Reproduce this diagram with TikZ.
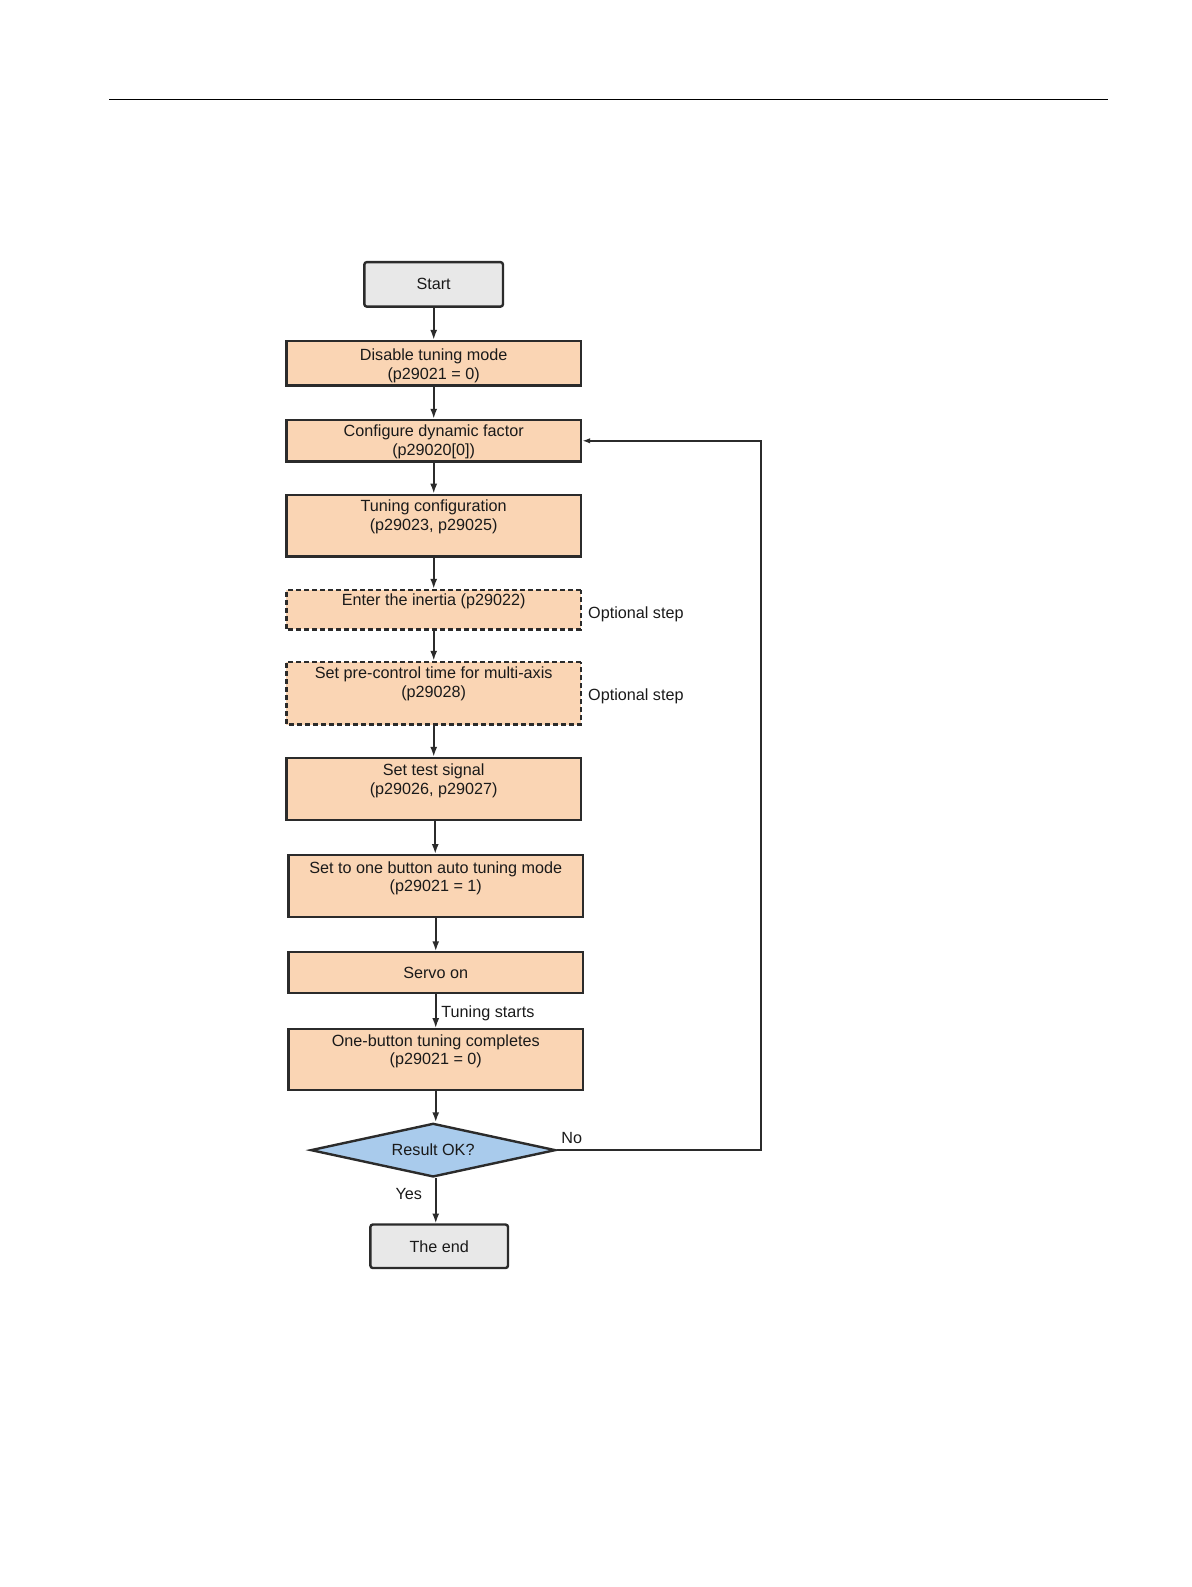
\documentclass[tikz,border=0pt]{standalone}
\usepackage{fontspec}
\setmainfont{Liberation Sans}
\usetikzlibrary{arrows.meta,shapes.geometric}
\definecolor{peach}{HTML}{FAD5B4}
\definecolor{termgray}{HTML}{E8E8E8}
\definecolor{decblue}{HTML}{A9CBEC}
\definecolor{edgecol}{HTML}{2B2B2B}
\definecolor{txtcol}{HTML}{1A1A1A}
\begin{document}
\begin{tikzpicture}[x=1pt,y=-1pt,
  every node/.style={font=\fontsize{16}{18.5}\selectfont, text=txtcol},
  term/.style={draw=edgecol, line width=2.4pt, fill=termgray, rounded corners=2.5pt, minimum width=137pt, minimum height=44pt, inner sep=0pt},
  procbox/.style={draw=edgecol, line width=2.4pt, fill=peach, minimum width=291pt, inner sep=0pt},
  optbox/.style={procbox, dash pattern=on 5pt off 3pt},
  boxtext/.style={anchor=north, align=center, inner sep=0pt},
  decision/.style={diamond, aspect=4.55, draw=edgecol, line width=2.4pt, fill=decblue, minimum width=242pt, minimum height=53pt, inner sep=0pt},
  flow/.style={draw=edgecol, line width=1.9pt, -{Latex[length=10pt,width=7pt]}},
  lbl/.style={inner sep=0pt}
]
\useasboundingbox (0,0) rectangle (1191,1587);
\begin{scope}[scale=1.012, every node/.append style={transform shape}]
\draw[line width=1pt, black] (108,98) coordinate (hl) -- (1095,98) coordinate (hr);

\node[term] (start) at (428.5,281) {Start};
\node[procbox, minimum height=44pt] (dis) at (428.5,359) {};
\node[boxtext] (dist) at ([yshift=-9pt]dis.north) {Disable tuning mode\\(p29021 = 0)};
\node[procbox, minimum height=41pt] (cfg) at (428.5,435.5) {};
\node[boxtext] (cfgt) at ([yshift=-6pt]cfg.north) {Configure dynamic factor\\(p29020[0])};
\node[procbox, minimum height=61pt] (tc) at (428.5,519.5) {};
\node[boxtext] (tct) at ([yshift=-6pt]tc.north) {Tuning configuration\\(p29023, p29025)};
\node[optbox, minimum height=39pt] (inr) at (428.5,602.5) {};
\node[boxtext] (inrt) at ([yshift=-5pt]inr.north) {Enter the inertia (p29022)};
\node[optbox, minimum height=62pt] (pre) at (428.5,685) {};
\node[boxtext] (pret) at ([yshift=-6pt]pre.north) {Set pre-control time for multi-axis\\(p29028)};
\node[procbox, minimum height=61pt] (sig) at (428.5,779.5) {};
\node[boxtext] (sigt) at ([yshift=-7pt]sig.north) {Set test signal\\(p29026, p29027)};
\node[procbox, minimum height=61pt] (obm) at (430.5,875.5) {};
\node[boxtext] (obmt) at ([yshift=-7pt]obm.north) {Set to one button auto tuning mode\\(p29021 = 1)};
\node[procbox, minimum height=40pt] (servo) at (430.5,961) {Servo on};
\node[procbox, minimum height=60pt] (obc) at (430.5,1047) {};
\node[boxtext] (obct) at ([yshift=-6pt]obc.north) {One-button tuning completes\\(p29021 = 0)};
\node[decision] (res) at (428,1136.5) {Result OK?};
\node[term, minimum width=136pt, minimum height=43pt] (fin) at (434,1231.5) {The end};

\node[lbl, anchor=west] (opt1) at (581,607) {Optional step};
\node[lbl, anchor=west] (opt2) at (581,688) {Optional step};
\node[lbl, anchor=west] (tstart) at (436,1001) {Tuning starts};
\node[lbl] (no) at (565,1124.5) {No};
\node[lbl] (yes) at (404,1180) {Yes};

\draw[flow] (start.south) -- (start.south |- dis.north);
\draw[flow] (dis.south) -- (dis.south |- cfg.north);
\draw[flow] (cfg.south) -- (cfg.south |- tc.north);
\draw[flow] (tc.south) -- (tc.south |- inr.north);
\draw[flow] (inr.south) -- (inr.south |- pre.north);
\draw[flow] (pre.south) -- (pre.south |- sig.north);
\draw[flow] ([xshift=1.5pt]sig.south) -- ([xshift=1.5pt]sig.south |- obm.north);
\draw[flow] (obm.south) -- (obm.south |- servo.north);
\draw[flow] (servo.south) -- (servo.south |- obc.north);
\draw[flow] (obc.south) -- (obc.south |- res.north);
\draw[flow] ([xshift=2.5pt]res.south) -- ([xshift=2.5pt]res.south |- fin.north);
\coordinate (loop) at (752,1136.5);
\draw[flow, -{Latex[length=8pt,width=5.5pt]}] (res.east) -- (loop) |- (cfg.east);
\end{scope}
\end{tikzpicture}
\end{document}
